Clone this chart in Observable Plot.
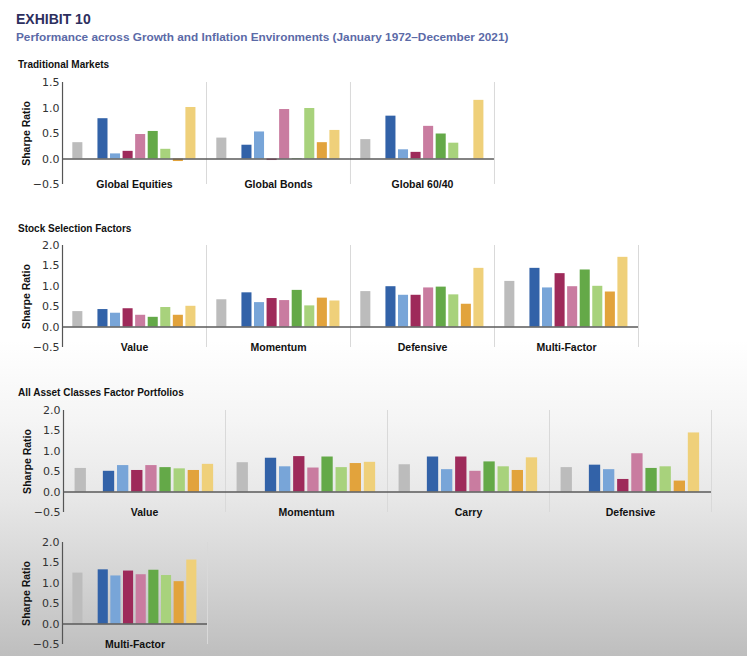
<!DOCTYPE html>
<html>
<head>
<meta charset="utf-8">
<script src="https://cdn.jsdelivr.net/npm/d3@7"></script>
<script src="https://cdn.jsdelivr.net/npm/@observablehq/plot@0.6"></script>
<style>
  html, body { margin: 0; padding: 0; }
  body {
    width: 747px; height: 656px; position: relative; overflow: hidden;
    font-family: "Liberation Sans", Arial, sans-serif;
    background: linear-gradient(to bottom, #ffffff 0px, #ffffff 340px, #f5f5f5 420px, #e7e7e7 500px, #d3d3d3 580px, #bebebe 656px);
  }
  .abs { position: absolute; white-space: nowrap; line-height: 1; }
  #exhibit { left: 16px; top: 12px; font-size: 14px; font-weight: bold; color: #2d2f5e; }
  #subtitle { left: 16px; top: 31.5px; font-size: 11.8px; font-weight: bold; color: #5b6aa7; }
  .section { left: 18px; font-size: 10px; font-weight: bold; color: #111; }
  .panel { position: absolute; left: 0; }
</style>
</head>
<body>
<div id="exhibit" class="abs">EXHIBIT 10</div>
<div id="subtitle" class="abs">Performance across Growth and Inflation Environments (January 1972–December 2021)</div>
<div class="abs section" style="top:59.5px">Traditional Markets</div>
<div class="abs section" style="top:223.5px">Stock Selection Factors</div>
<div class="abs section" style="top:387.5px">All Asset Classes Factor Portfolios</div>
<div id="p1" class="panel" style="top:74px"></div>
<div id="p2" class="panel" style="top:237px"></div>
<div id="p3" class="panel" style="top:402px"></div>
<div id="p4" class="panel" style="top:533.7px"></div>
<script>
// ---- Data ----
const seriesNames = ["Full Period", "Env 1", "Env 2", "Env 3", "Env 4", "Env 5", "Env 6", "Env 7", "Env 8"];
const seriesSlots = [0, 2, 3, 4, 5, 6, 7, 8, 9];
const seriesColors = ["#bcbcbc", "#3262a8", "#78a5d8", "#9e2a5a", "#c97ca0", "#64a948", "#a8d27c", "#e2a33c", "#efd07a"];

const tradGroups = ["Global Equities", "Global Bonds", "Global 60/40"];
const tradValues = [
  [0.32, 0.79, 0.10, 0.15, 0.48, 0.54, 0.19, -0.05, 1.01],
  [0.41, 0.27, 0.53, -0.03, 0.97, -0.01, 0.99, 0.32, 0.56],
  [0.38, 0.84, 0.18, 0.13, 0.64, 0.49, 0.31, 0.00, 1.15]
];

const stockGroups = ["Value", "Momentum", "Defensive", "Multi-Factor"];
const stockValues = [
  [0.38, 0.43, 0.34, 0.45, 0.29, 0.24, 0.48, 0.29, 0.51],
  [0.67, 0.84, 0.60, 0.70, 0.65, 0.90, 0.52, 0.71, 0.64],
  [0.87, 0.99, 0.78, 0.78, 0.96, 0.98, 0.79, 0.56, 1.44],
  [1.12, 1.44, 0.96, 1.31, 0.99, 1.40, 1.00, 0.86, 1.71]
];

const assetGroups = ["Value", "Momentum", "Carry", "Defensive"];
const assetValues = [
  [0.58, 0.51, 0.65, 0.53, 0.65, 0.60, 0.57, 0.53, 0.68],
  [0.72, 0.83, 0.62, 0.87, 0.59, 0.86, 0.60, 0.70, 0.73],
  [0.67, 0.86, 0.55, 0.86, 0.51, 0.74, 0.62, 0.53, 0.84],
  [0.60, 0.66, 0.55, 0.31, 0.94, 0.58, 0.62, 0.27, 1.45]
];

const multiGroups = ["Multi-Factor"];
const multiValues = [
  [1.25, 1.33, 1.18, 1.30, 1.21, 1.32, 1.19, 1.04, 1.57]
];

const ticksTrad = [-0.5, 0, 0.5, 1.0, 1.5];
const ticksFactor = [-0.5, 0, 0.5, 1.0, 1.5, 2.0];

// ---- Chart builder ----
const xDomain = [-1.22, 10.24];
const fmt = d => (d < 0 ? "\u2212" : "") + Math.abs(d).toFixed(1);

function panel(groups, values, ticks, facetWidth) {
  const data = [];
  groups.forEach((g, gi) => {
    values[gi].forEach((v, si) => {
      data.push({group: g, series: seriesNames[si], slot: seriesSlots[si], value: v});
    });
  });
  const marginLeft = 62, marginRight = 4, marginTop = 8, marginBottom = 12;
  const width = marginLeft + groups.length * facetWidth + marginRight;
  const height = marginTop + 102 + marginBottom;
  return Plot.plot({
    width, height, marginLeft, marginRight, marginTop, marginBottom,
    style: {background: "transparent", fontFamily: "DejaVu Sans", fontSize: "11px", color: "#333", overflow: "visible"},
    fx: {domain: groups, padding: 0, axis: null},
    x: {domain: xDomain, axis: null},
    y: {domain: [ticks[0], ticks[ticks.length - 1]], axis: null},
    color: {domain: seriesNames, range: seriesColors},
    marks: [
      Plot.ruleX([xDomain[1]], {stroke: "#d9d9d9", strokeWidth: 1}),
      Plot.ruleX([groups[0]], {fx: d => d, x: () => xDomain[0], stroke: "#555", strokeWidth: 1.2}),
      Plot.rect(data, {
        fx: "group",
        x1: d => d.slot - 0.4,
        x2: d => d.slot + 0.4,
        y1: 0,
        y2: "value",
        fill: "series"
      }),
      Plot.ruleY([0], {stroke: "#5a5a5a", strokeWidth: 1.5}),
      Plot.axisY(ticks, {tickSize: 0, tickPadding: 3, tickFormat: fmt, fontSize: 11, fill: "#333", label: null}),
      Plot.text([groups[0]], {fx: d => d, text: () => "Sharpe Ratio", frameAnchor: "left", textAnchor: "middle", rotate: -90, dx: -36, fontWeight: "bold", fontFamily: "Liberation Sans", fontSize: 10.5, fill: "#111"}),
      Plot.text(groups, {fx: d => d, text: d => d, frameAnchor: "bottom", lineAnchor: "middle", fontWeight: "bold", fontFamily: "Liberation Sans", fontSize: 10.5, fill: "#111"})
    ]
  });
}

document.getElementById("p1").appendChild(panel(tradGroups, tradValues, ticksTrad, 144.3));
document.getElementById("p2").appendChild(panel(stockGroups, stockValues, ticksFactor, 144));
document.getElementById("p3").appendChild(panel(assetGroups, assetValues, ticksFactor, 162.5));
document.getElementById("p4").appendChild(panel(multiGroups, multiValues, ticksFactor, 145));
</script>
</body>
</html>
